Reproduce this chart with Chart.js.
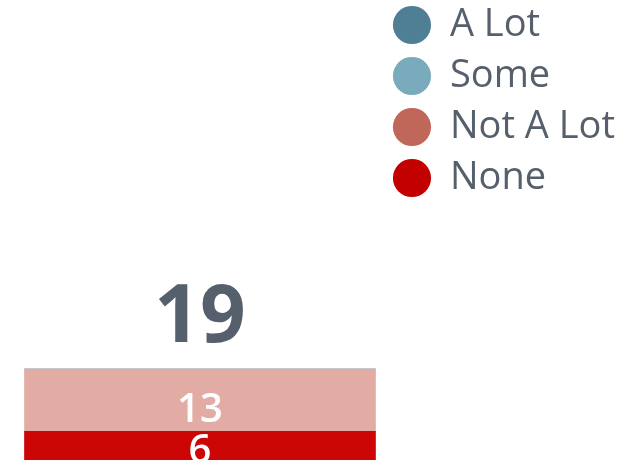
<!DOCTYPE html>
<html lang="en">
  <head>
    <meta charset="UTF-8" />
    <title>Stacked bar</title>
    <script src="https://cdn.jsdelivr.net/npm/chart.js"></script>
    <style>
      html, body { margin: 0; padding: 0; background: #fff; }
      .chart-container { width: 629px; height: 460px; position: relative; }
    </style>
  </head>
  <body>
    <div class="chart-container">
      <canvas id="grafico"></canvas>
    </div>

    <script>
      // data
      const categorias = [""];
      const series = ["None", "Not A Lot", "Some", "A Lot"];
      const valores = [[6], [13], [0], [0]];
      const coresBarra = ["#cc0505", "#e2aca4", "#7aabbd", "#4e7f94"];
      const coresLegenda = ["#c20000", "#c0675a", "#7aabbd", "#4e7f94"];

      const textoCor = "#56606d";
      const fonte = "'Open Sans', 'DejaVu Sans', sans-serif";

      // labels inside segments + total on top
      const rotulos = {
        id: "rotulos",
        afterDatasetsDraw(chart) {
          const ctx = chart.ctx;
          ctx.save();
          ctx.textAlign = "center";
          ctx.textBaseline = "alphabetic";
          let topo = Infinity;
          let total = 0;
          let xc = 0;
          chart.data.datasets.forEach((ds, i) => {
            const meta = chart.getDatasetMeta(i);
            meta.data.forEach((bar, j) => {
              const v = ds.data[j];
              if (!v) return;
              total += v;
              xc = bar.x;
              topo = Math.min(topo, bar.y);
              const h = bar.base - bar.y;
              const meio = (bar.y + bar.base) / 2;
              ctx.fillStyle = "#ffffff";
              ctx.font = "600 40px " + fonte;
              ctx.fillText(String(v), bar.x, meio + 17 + (h - 29) * 0.15);
            });
          });
          ctx.fillStyle = textoCor;
          ctx.font = "bold 80px " + fonte;
          ctx.fillText(String(total), xc, topo - 27);
          ctx.restore();
        },
      };

      const ctx = document.getElementById("grafico").getContext("2d");
      new Chart(ctx, {
        type: "bar",
        data: {
          labels: categorias,
          datasets: series.map((nome, i) => ({
            label: nome,
            data: valores[i],
            backgroundColor: coresBarra[i],
            borderWidth: 0,
            barThickness: 351,
          })),
        },
        options: {
          responsive: true,
          maintainAspectRatio: false,
          animation: false,
          layout: { padding: { left: 20, right: 4, top: -7, bottom: 0 } },
          scales: {
            x: { stacked: true, display: false },
            y: { stacked: true, display: false, min: 0, max: 96 },
          },
          plugins: {
            tooltip: { enabled: false },
            legend: {
              position: "right",
              align: "start",
              reverse: true,
              labels: {
                usePointStyle: true,
                pointStyle: "circle",
                boxWidth: 38,
                boxHeight: 27,
                padding: 13,
                color: textoCor,
                font: { size: 38, family: fonte },
                generateLabels(chart) {
                  return chart.data.datasets.map((ds, i) => ({
                    text: ds.label,
                    fillStyle: coresLegenda[i],
                    strokeStyle: coresLegenda[i],
                    lineWidth: 0,
                    pointStyle: "circle",
                    fontColor: textoCor,
                    datasetIndex: i,
                    hidden: false,
                  }));
                },
              },
            },
          },
        },
        plugins: [rotulos],
      });
    </script>
  </body>
</html>
